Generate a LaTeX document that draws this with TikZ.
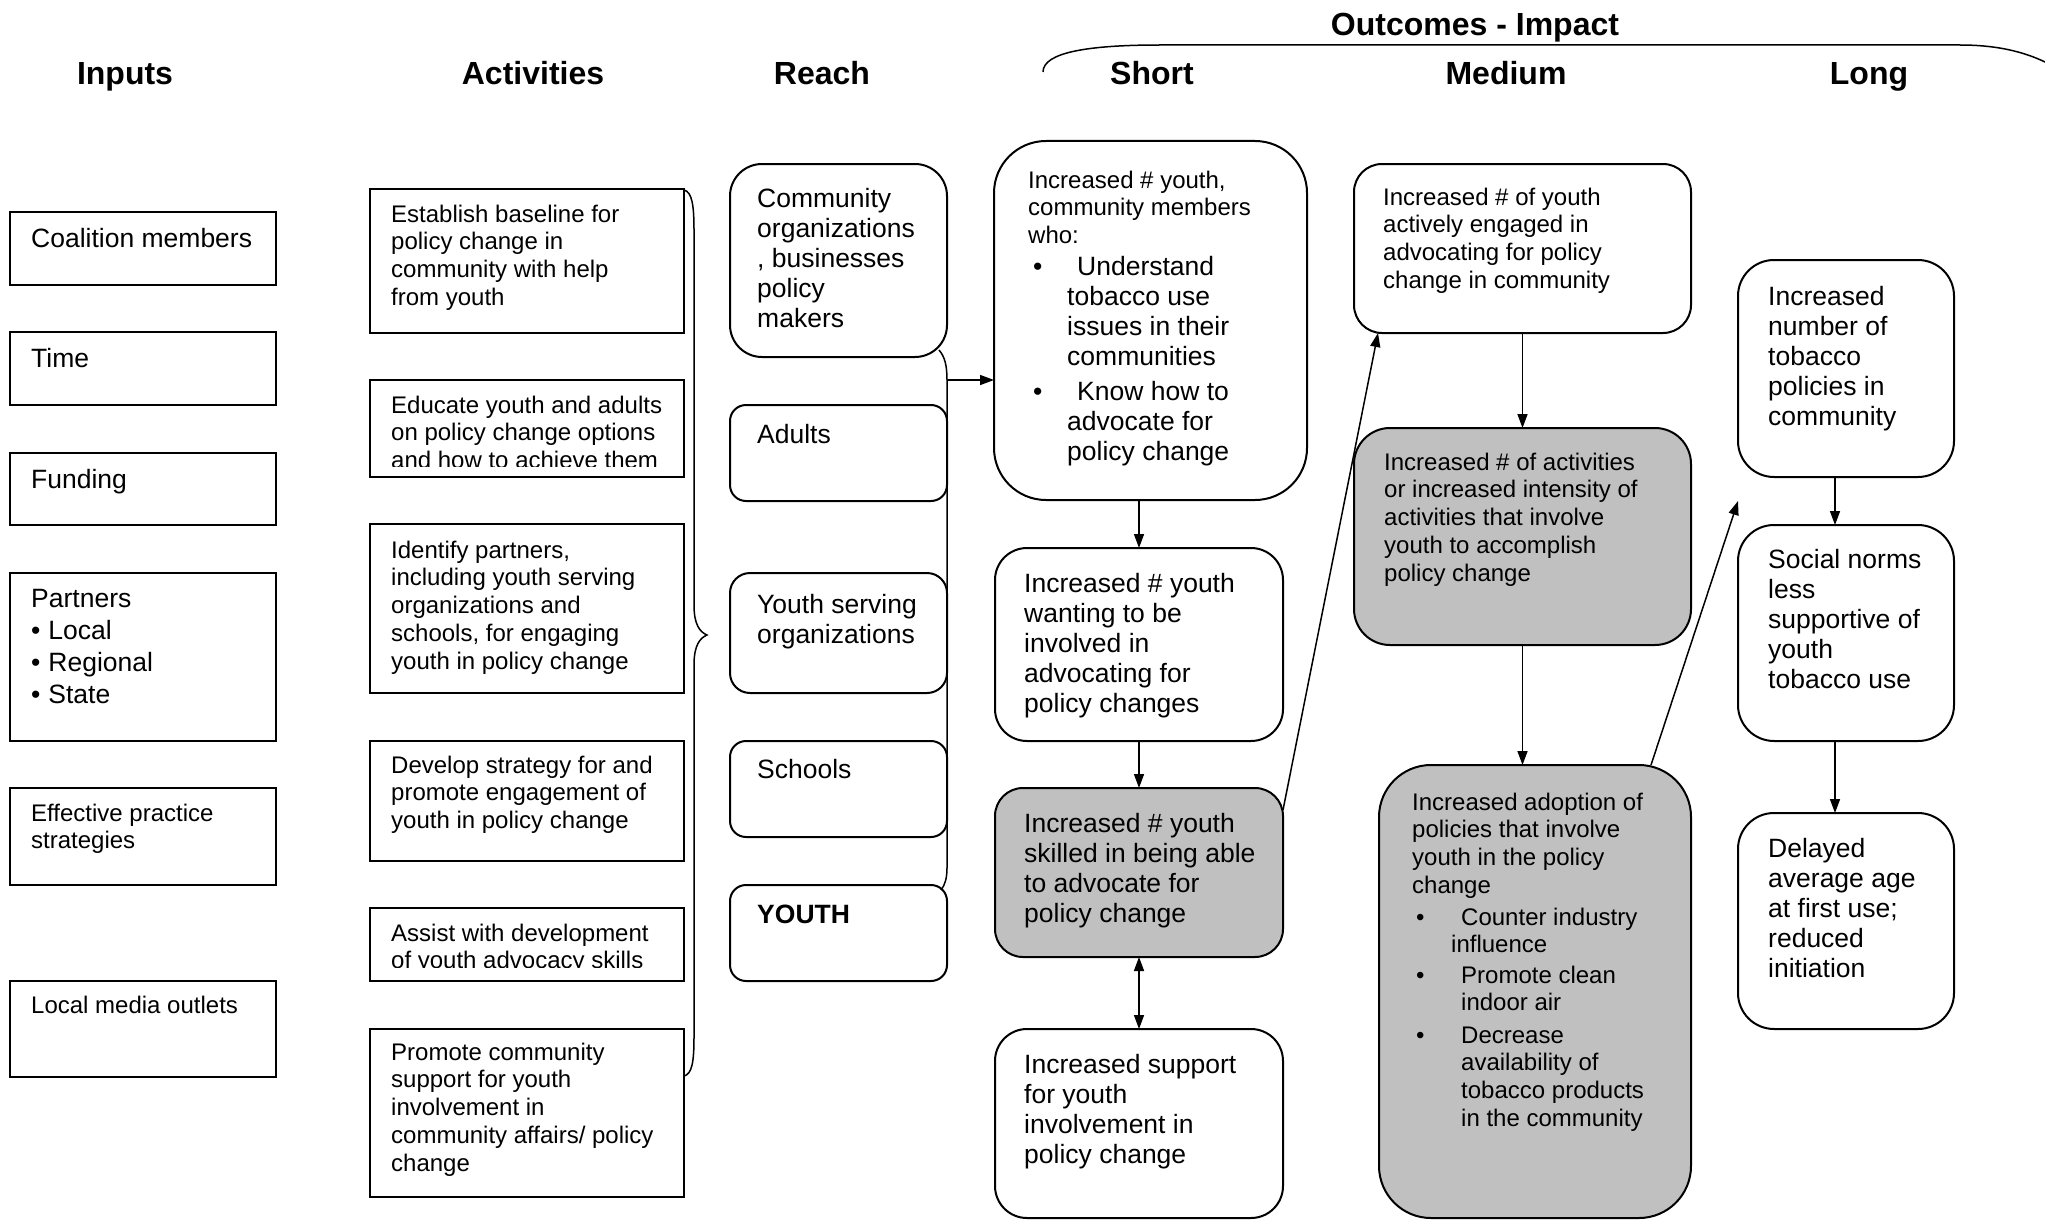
\documentclass[tikz,border=0pt]{standalone}
\usepackage{fontspec}
\setmainfont{Liberation Sans}
\usetikzlibrary{arrows.meta,calc}
\definecolor{boxgray}{RGB}{192,192,192}
\tikzset{
  sqbox/.style={draw, line width=2pt, inner sep=0pt, outer sep=0pt},
  rndbox/.style={sqbox, rounded corners=#1},
  graybox/.style={rndbox=#1, fill=boxgray},
  hdr/.style={font=\fontsize{32}{38}\selectfont\bfseries, anchor=base, inner sep=0pt},
  bigtext/.style={font=\fontsize{26.5}{30}\selectfont, anchor=north west, inner sep=0pt, align=left},
  smalltext/.style={font=\fontsize{24}{27.7}\selectfont, anchor=north west, inner sep=0pt, align=left},
  conn/.style={line width=1.5pt, -{Triangle[length=14pt,width=10pt]}},
  conntwo/.style={line width=1.5pt, {Triangle[length=14pt,width=10pt]}-{Triangle[length=14pt,width=10pt]}},
  brc/.style={line width=1.5pt}
}
\newcommand\boxat[6]{\node[#2, minimum width={(#5)-(#3)}, minimum height={(#6)-(#4)}] (#1) at ({((#3)+(#5))/2},{((#4)+(#6))/2}) {};}
\newcommand\BigT[4]{\node[bigtext] (#1) at (#2,{#3-21.2}) {\rule{0pt}{21.2pt}#4};}
\newcommand\SmT[4]{\node[smalltext] (#1) at (#2,{#3-19.2}) {\rule{0pt}{19.2pt}#4};}
\begin{document}
\begin{tikzpicture}[x=1pt,y=-1pt]
\useasboundingbox (0,0) rectangle (2045,1220);
\clip (0,0) rectangle (2045,1220);

% headers
\node[hdr] (hin) at (125,85) {Inputs};
\node[hdr] (hact) at (533,85) {Activities};
\node[hdr] (hreach) at (822,85) {Reach};
\node[hdr] (hshort) at (1152,85) {Short};
\node[hdr] (hmed) at (1506,85) {Medium};
\node[hdr] (hlong) at (1869,85) {Long};
\node[hdr] (hout) at (1475,36) {Outcomes - Impact};
\draw[brc] (1043,72) .. controls (1043,52) and (1090,45) .. (1160,45) -- (1960,45) .. controls (2005,45) and (2035,55) .. (2060,70);

% inputs
\boxat{coal}{sqbox}{10}{212}{276}{285}
\boxat{time}{sqbox}{10}{332}{276}{405}
\boxat{fund}{sqbox}{10}{453}{276}{525}
\boxat{part}{sqbox}{10}{573}{276}{741}
\boxat{effp}{sqbox}{10}{788}{276}{885}
\boxat{media}{sqbox}{10}{981}{276}{1077}
\BigT{tcoal}{31}{247}{Coalition members}
\BigT{ttime}{31}{367}{Time}
\BigT{tfund}{31}{488}{Funding}
\BigT{tpart}{31}{607}{Partners\\[2pt]\textbullet\hspace{8pt}Local\\[2pt]\textbullet\hspace{8pt}Regional\\[2pt]\textbullet\hspace{8pt}State}
\SmT{teffp}{31}{821}{Effective practice\\strategies}
\SmT{tmedia}{31}{1013}{Local media outlets}

% activities
\boxat{a1}{sqbox}{370}{189}{684}{333}
\boxat{a2}{sqbox}{370}{380}{684}{477}
\boxat{a3}{sqbox}{370}{524}{684}{693}
\boxat{a4}{sqbox}{370}{741}{684}{861}
\boxat{a5}{sqbox}{370}{908}{684}{981}
\boxat{a6}{sqbox}{370}{1029}{684}{1197}
\SmT{ta1}{391}{222}{Establish baseline for\\policy change in\\community with help\\from youth}
\begin{scope}
\clip (370,380) rectangle (684,466);
\SmT{ta2}{391}{413}{Educate youth and adults\\on policy change options\\and how to achieve them}
\end{scope}
\SmT{ta3}{391}{558}{Identify partners,\\including youth serving\\organizations and\\schools, for engaging\\youth in policy change}
\SmT{ta4}{391}{773}{Develop strategy for and\\promote engagement of\\youth in policy change}
\begin{scope}
\clip (370,908) rectangle (684,967);
\SmT{ta5}{391}{941}{Assist with development\\of youth advocacy skills}
\end{scope}
\SmT{ta6}{391}{1060}{Promote community\\support for youth\\involvement in\\community affairs/ policy\\change}
\draw[brc] (684,190) .. controls (692,192) and (694,205) .. (694,230) -- (694,605) .. controls (694,625) and (700,632) .. (707,635) .. controls (700,638) and (694,645) .. (694,665) -- (694,1037) .. controls (694,1062) and (692,1074) .. (684,1076);

% reach
\boxat{r1}{rndbox=32}{730}{164}{947}{357}
\boxat{r2}{rndbox=16}{730}{405}{947}{501}
\boxat{r3}{rndbox=20}{730}{573}{947}{693}
\boxat{r4}{rndbox=16}{730}{741}{947}{837}
\boxat{r5}{rndbox=16}{730}{885}{947}{981}
\BigT{tr1}{757}{207}{Community\\organizations\\, businesses\\policy\\makers}
\BigT{tr2}{757}{443}{Adults}
\BigT{tr3}{757}{613}{Youth serving\\organizations}
\BigT{tr4}{757}{778}{Schools}
\BigT{tr5}{757}{923}{\bfseries YOUTH}
\coordinate (brk) at (947,380);
\draw[brc] (939,350) .. controls (945,357) and (947,366) .. (brk) -- (947,868) .. controls (947,878) and (945,885) .. (941,890);

% short
\boxat{s1}{rndbox=52}{994}{141}{1307}{500}
\boxat{s2}{rndbox=32}{995}{548}{1283}{741}
\boxat{s3}{graybox=28}{995}{788}{1283}{957}
\boxat{s4}{rndbox=32}{995}{1029}{1283}{1218}
\SmT{ts1}{1028}{188}{Increased \# youth,\\community members\\who:}
\BigT{ts1b1}{1033}{275}{\textbullet}
\BigT{ts1i1}{1067}{275}{\hspace*{10pt}Understand\\tobacco use\\issues in their\\communities}
\BigT{ts1b2}{1033}{400}{\textbullet}
\BigT{ts1i2}{1067}{400}{\hspace*{10pt}Know how to\\advocate for\\policy change}
\BigT{ts2}{1024}{592}{Increased \# youth\\wanting to be\\involved in\\advocating for\\policy changes}
\BigT{ts3}{1024}{832}{Increased \# youth\\skilled in being able\\to advocate for\\policy change}
\BigT{ts4}{1024}{1073}{Increased support\\for youth\\involvement in\\policy change}

% medium
\boxat{m1}{rndbox=28}{1354}{164}{1691}{333}
\boxat{m2}{graybox=36}{1354}{428}{1691}{645}
\boxat{m3}{graybox=52}{1379}{765}{1691}{1218}
\SmT{tm1}{1383}{205}{Increased \# of youth\\actively engaged in\\advocating for policy\\change in community}
\SmT{tm2}{1384}{470}{Increased \# of activities\\or increased intensity of\\activities that involve\\youth to accomplish\\policy change}
\SmT{tm3}{1412}{810}{Increased adoption of\\policies that involve\\youth in the policy\\change}
\SmT{tm3b1}{1416}{925}{\textbullet}
\SmT{tm3i1}{1451}{925}{\hspace*{10pt}Counter industry\\influence}
\SmT{tm3b2}{1416}{983}{\textbullet}
\SmT{tm3i2}{1461}{983}{Promote clean\\indoor air}
\SmT{tm3b3}{1416}{1043}{\textbullet}
\SmT{tm3i3}{1461}{1043}{Decrease\\availability of\\tobacco products\\in the community}

% long
\boxat{l1}{rndbox=36}{1738}{260}{1954}{477}
\boxat{l2}{rndbox=36}{1738}{525}{1954}{741}
\boxat{l3}{rndbox=36}{1738}{813}{1954}{1029}
\BigT{tl1}{1768}{305}{Increased\\number of\\tobacco\\policies in\\community}
\BigT{tl2}{1768}{568}{Social norms\\less\\supportive of\\youth\\tobacco use}
\BigT{tl3}{1768}{857}{Delayed\\average age\\at first use;\\reduced\\initiation}

% connectors
\draw[conn] (brk) -- (brk -| s1.west);
\draw[conn] (s2.north |- s1.south) -- (s2.north);
\draw[conn] (s2.south) -- (s3.north);
\draw[conntwo] (s3.south) -- (s4.north);
\draw[conn] (m1.south) -- (m2.north);
\draw[conn] (m2.south) -- (m2.south |- m3.north);
\draw[conn] ($(l1.south)+(-11,0)$) -- ($(l2.north)+(-11,0)$);
\draw[conn] ($(l2.south)+(-11,0)$) -- ($(l3.north)+(-11,0)$);
\draw[conn] ($(s3.north east)+(0,22)$) -- ($(m1.south west)+(24,0)$);
\coordinate (ltip) at ($(l1.south west)!0.5!(l2.north west)$);
\draw[conn] ($(m3.north east)+(-40,0)$) -- (ltip);
\end{tikzpicture}
\end{document}
